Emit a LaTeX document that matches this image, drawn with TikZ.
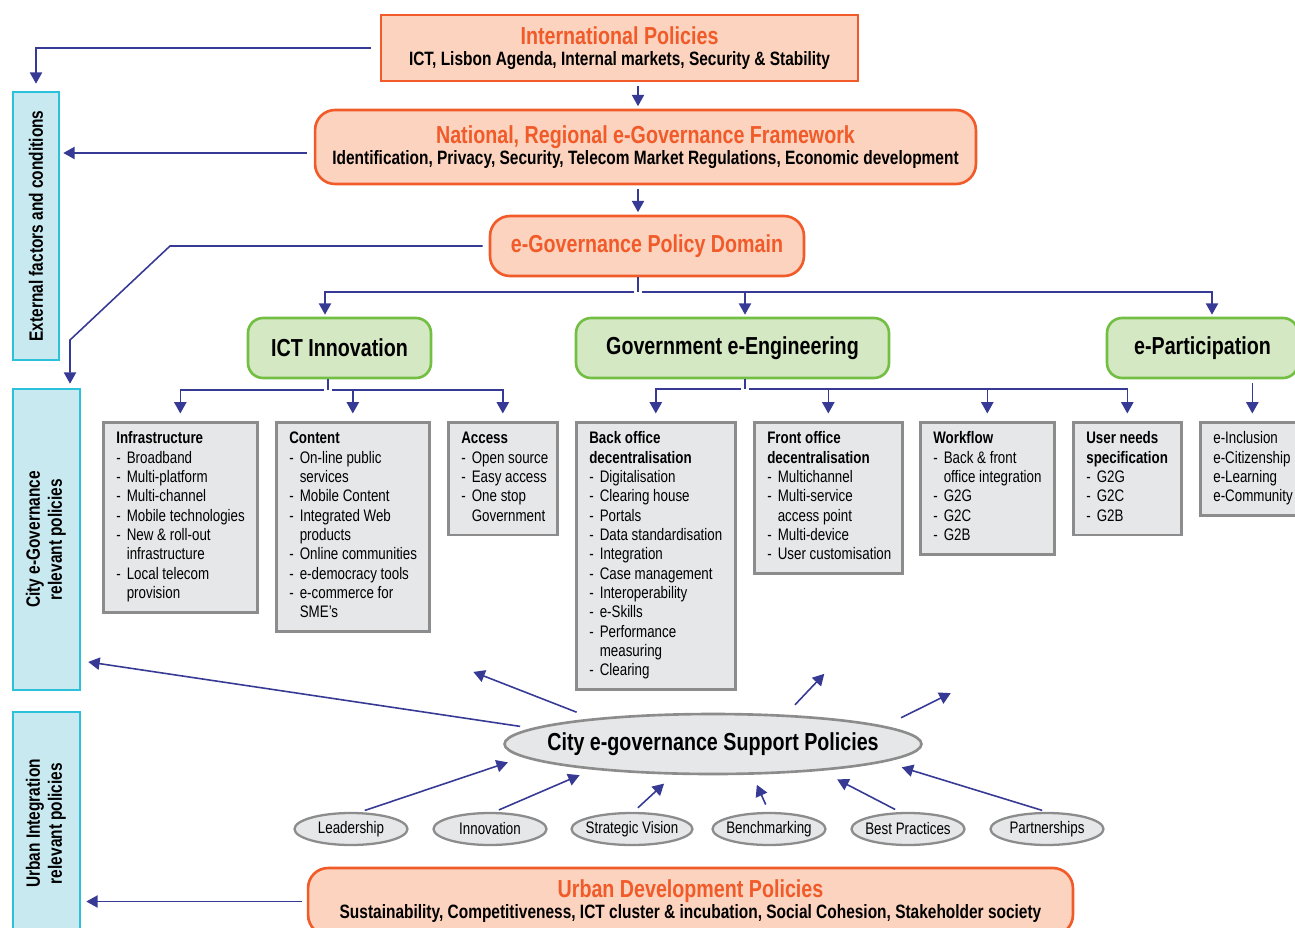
\documentclass[tikz,border=0pt]{standalone}
\usepackage{fontspec}
\setmainfont{Liberation Sans}[FakeStretch=0.8]
\usepackage{graphicx}
\usetikzlibrary{arrows.meta, shapes.geometric, calc}

\definecolor{peach}{HTML}{FBD3BE}
\definecolor{orng}{HTML}{F15A29}
\definecolor{leaf}{HTML}{D5E8C4}
\definecolor{leafline}{HTML}{72BF44}
\definecolor{sky}{HTML}{C9E9F0}
\definecolor{skyline}{HTML}{2BC1DA}
\definecolor{greyfill}{HTML}{E6E7E8}
\definecolor{greyline}{HTML}{8C8C8C}
\definecolor{ink}{HTML}{363A94}

\newcommand{\boxlist}[2]{\makebox[#1][l]{\begin{tabular}{@{}l@{}}#2\end{tabular}}}
\newcommand{\itm}{\makebox[0.21cm][l]{-}}
\newcommand{\itemcont}{\hspace*{0.21cm}}

\begin{document}
\begin{tikzpicture}[x=0.02cm, y=-0.02cm,
    policy/.style={draw=orng, fill=peach, line width=1.5pt, align=center, inner sep=0pt,
        font=\fontsize{11}{12}\selectfont\bfseries},
    pillar/.style={draw=leafline, fill=leaf, line width=1.5pt, rounded corners=0.3cm,
        minimum height=1.2cm, font=\fontsize{14}{16}\selectfont\bfseries},
    listbox/.style={draw=greyline, fill=greyfill, line width=1.5pt, anchor=north west,
        inner xsep=0.26cm, inner ysep=0.16cm, font=\fontsize{9.5}{11}\selectfont},
    sidebar/.style={draw=skyline, fill=sky, line width=1.5pt,
        font=\fontsize{11}{12.5}\selectfont\bfseries},
    hub/.style={ellipse, draw=greyline, fill=greyfill, line width=1.5pt,
        inner xsep=-14pt, inner ysep=0pt, font=\fontsize{14}{16}\selectfont\bfseries},
    pill/.style={ellipse, draw=greyline, fill=greyfill, line width=1.3pt,
        minimum width=2.26cm, minimum height=0.64cm, inner xsep=-2pt, inner ysep=0pt,
        font=\fontsize{9.5}{11}\selectfont},
    link/.style={draw=ink, line width=0.9pt},
    arr/.style={link, -{Triangle[length=6.5pt, width=7pt]}, shorten <=0.08cm, shorten >=0.05cm}]

    \useasboundingbox (0,0) rectangle (1295,927);

    % policy levels
    \node[policy, minimum width=9.54cm, minimum height=1.32cm] (intl) at (619.5,48)
        {{\fontsize{14}{12}\selectfont\color{orng}International Policies}\\ICT, Lisbon Agenda, Internal markets, Security \& Stability};
    \node[policy, rounded corners=0.4cm, minimum width=13.22cm, minimum height=1.48cm] (natl) at (645.5,147)
        {{\fontsize{14}{12}\selectfont\color{orng}National, Regional e-Governance Framework}\\Identification, Privacy, Security, Telecom Market Regulations, Economic development};
    \node[policy, rounded corners=0.4cm, minimum width=6.28cm, minimum height=1.2cm,
        font=\fontsize{14}{16}\selectfont\bfseries, text=orng] (dom) at (647,246) {e-Governance Policy Domain};
    \node[policy, rounded corners=0.4cm, minimum width=15.3cm, minimum height=1.34cm] (urban) at (690.5,901.5)
        {{\fontsize{14}{12}\selectfont\color{orng}Urban Development Policies}\\Sustainability, Competitiveness, ICT cluster \& incubation, Social Cohesion, Stakeholder society};

    % side bars
    \node[sidebar, minimum width=0.92cm, minimum height=5.36cm] (ext) at (36,226)
        {\rotatebox{90}{External factors and conditions}};
    \node[sidebar, minimum width=1.34cm, minimum height=6.02cm] (city) at (46.5,539.5)
        {\rotatebox{90}{\begin{tabular}{@{}c@{}}City e-Governance\\relevant policies\end{tabular}}};
    \node[sidebar, minimum width=1.34cm, minimum height=4.46cm] (urbint) at (46.5,823.5)
        {\rotatebox{90}{\begin{tabular}{@{}c@{}}Urban Integration\\relevant policies\end{tabular}}};

    % pillars
    \node[pillar, minimum width=3.66cm] (ict) at (339.5,348) {ICT Innovation};
    \node[pillar, minimum width=6.26cm] (gove) at (732.5,348) {Government e-Engineering};
    \node[pillar, minimum width=3.82cm] (epart) at (1202.5,348) {e-Participation};

    % lists
    \node[listbox] (infra) at (102,421) {\boxlist{2.56cm}{\textbf{Infrastructure}\\\itm Broadband\\\itm Multi-platform\\\itm Multi-channel\\\itm Mobile technologies\\\itm New \& roll-out\\\itemcont infrastructure\\\itm Local telecom\\\itemcont provision}};
    \node[listbox] (content) at (275,421) {\boxlist{2.54cm}{\textbf{Content}\\\itm On-line public\\\itemcont services\\\itm Mobile Content\\\itm Integrated Web\\\itemcont products\\\itm Online communities\\\itm e-democracy tools\\\itm e-commerce for\\\itemcont SME’s}};
    \node[listbox] (access) at (447,421) {\boxlist{1.66cm}{\textbf{Access}\\\itm Open source\\\itm Easy access\\\itm One stop\\\itemcont Government}};
    \node[listbox] (back) at (575,421) {\boxlist{2.66cm}{\textbf{Back office}\\\textbf{decentralisation}\\\itm Digitalisation\\\itm Clearing house\\\itm Portals\\\itm Data standardisation\\\itm Integration\\\itm Case management\\\itm Interoperability\\\itm e-Skills\\\itm Performance\\\itemcont measuring\\\itm Clearing}};
    \node[listbox] (front) at (753,421) {\boxlist{2.44cm}{\textbf{Front office}\\\textbf{decentralisation}\\\itm Multichannel\\\itm Multi-service\\\itemcont access point\\\itm Multi-device\\\itm User customisation}};
    \node[listbox] (work) at (919,421) {\boxlist{2.16cm}{\textbf{Workflow}\\\itm Back \& front\\\itemcont office integration\\\itm G2G\\\itm G2C\\\itm G2B}};
    \node[listbox] (user) at (1072,421) {\boxlist{1.64cm}{\textbf{User needs}\\\textbf{specification}\\\itm G2G\\\itm G2C\\\itm G2B}};
    \node[listbox] (eincl) at (1199,421) {\boxlist{1.56cm}{e-Inclusion\\e-Citizenship\\e-Learning\\e-Community}};

    % support policies
    \node[hub, minimum width=8.34cm, minimum height=1.2cm] (sup) at (713,744) {City e-governance Support Policies};
    \node[pill] (lead) at (351,829) {Leadership};
    \node[pill] (innov) at (490,829) {Innovation};
    \node[pill] (strat) at (632,829) {Strategic Vision};
    \node[pill] (bench) at (769,829) {Benchmarking};
    \node[pill] (best) at (908,829) {Best Practices};
    \node[pill] (partn) at (1047,829) {Partnerships};

    % connectors
    \coordinate (spine) at (638,0);
    \draw[arr] (intl.south -| spine) -- (natl.north -| spine);
    \draw[arr] (natl.south -| spine) -- (dom.north -| spine);

    \draw[arr, shorten <=0.18cm, shorten >=0.14cm] (intl.west) -| (ext.north);
    \coordinate (natlout) at ($(natl.west)+(0,6)$);
    \draw[arr, shorten <=0.14cm, shorten >=0.06cm] (natlout) -- (natlout -| ext.east);
    \coordinate (bend1) at (170,246);
    \coordinate (bend2) at (70,340);
    \draw[arr, shorten <=0.12cm, shorten >=0.08cm] (dom.west) -- (bend1) -- (bend2) -- (bend2 |- city.north);

    \coordinate (bus) at (638,292);
    \draw[link] (dom.south -| bus) -- (bus);
    \draw[arr, shorten >=0.04cm] (bus) -| ([xshift=-0.29cm]ict.north);
    \draw[arr, shorten >=0.04cm] (bus) -| ([xshift=0.25cm]gove.north);
    \draw[arr, shorten >=0.04cm] (bus) -| ([xshift=0.19cm]epart.north);

    \coordinate (ictbus) at (328,390);
    \draw[link] (ictbus |- ict.south) -- (ictbus);
    \draw[arr, shorten >=0.15cm] (ictbus) -| (infra.north);
    \draw[arr, shorten >=0.15cm] (ictbus) -| (content.north);
    \draw[arr, shorten >=0.15cm] (ictbus) -| (access.north);

    \coordinate (govbus) at (745,389);
    \draw[link] (govbus |- gove.south) -- (govbus);
    \draw[arr, shorten >=0.15cm] (govbus) -| (back.north);
    \draw[arr, shorten >=0.15cm] (govbus) -| (front.north);
    \draw[arr, shorten >=0.15cm] (govbus) -| (work.north);
    \draw[arr, shorten >=0.15cm] (govbus) -| (user.north);
    \draw[arr, shorten >=0.15cm] (epart.south -| eincl.north) -- (eincl.north);

    \coordinate (outa) at (471,671);
    \coordinate (outb) at (826,672);
    \coordinate (outc) at (953,692);
    \draw[arr, shorten <=0.24cm, shorten >=0.14cm] (sup.175.1) -- (city.-74.5);
    \draw[arr, shorten <=0.34cm] (sup.168.3) -- (outa);
    \draw[arr, shorten <=0.27cm] (sup.22.3) -- (outb);
    \draw[arr, shorten <=0.37cm] (sup.6.6) -- (outc);

    \draw[arr, shorten <=0.1cm, shorten >=0.32cm] (lead.62) -- (sup.184.5);
    \draw[arr, shorten <=0.1cm, shorten >=0.28cm] (innov.76.6) -- (sup.192.3);
    \draw[arr, shorten <=0.12cm, shorten >=0.26cm] (strat.85) -- (sup.218.2);
    \draw[arr, shorten <=0.16cm, shorten >=0.22cm] (bench.north) -- (sup.322.8);
    \draw[arr, shorten <=0.11cm, shorten >=0.37cm] (best.115.5) -- (sup.346.3);
    \draw[arr, shorten <=0.1cm, shorten >=0.36cm] (partn.north) -- (sup.354.3);

    \draw[arr, shorten <=0.1cm, shorten >=0.1cm] (urban.west) -- (urban.west -| urbint.east);
\end{tikzpicture}
\end{document}
